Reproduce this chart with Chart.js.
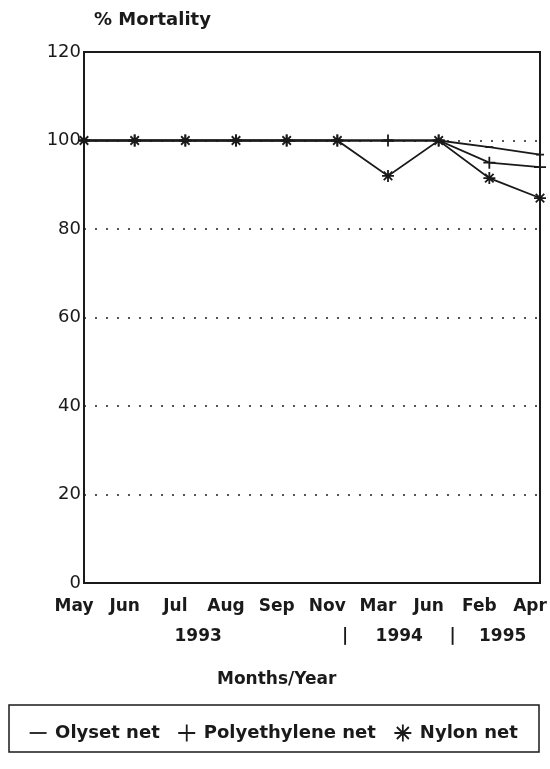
<!DOCTYPE html>
<html>
<head>
<meta charset="utf-8">
<script src="https://cdn.jsdelivr.net/npm/chart.js@4"></script>
<style>
    html, body { margin: 0; padding: 0; background: #fff; }
    #wrap { width: 550px; height: 769px; }
</style>
</head>
<body>
<div id="wrap"><canvas id="chart" width="550" height="769"></canvas></div>
<script>
const months = ["May", "Jun", "Jul", "Aug", "Sep", "Nov", "Mar", "Jun", "Feb", "Apr"];
const olyset = [100, 100, 100, 100, 100, 100, 100, 100, 98.5, 96.8];
const polyethylene = [100, 100, 100, 100, 100, 100, 100, 100, 95, 94];
const nylon = [100, 100, 100, 100, 100, 100, 92, 100, 91.5, 87];
const yTicks = [0, 20, 40, 60, 80, 100, 120];
const yearLabels = ["1993", "|", "1994", "|", "1995"];
// where the year row sits, in category index units
const yearAt = [2.45, 5.35, 6.42, 7.47, 8.46];
const xTitleAt = 4.0;

const INK = "#1a1a1a";
const FONT = "'DejaVu Sans', 'Liberation Sans', sans-serif";
const LABEL_SHIFT = -10;

const framePlugin = {
    id: "frame",
    afterDraw: (chart) => {
        const ctx = chart.ctx;
        const a = chart.chartArea;
        const x = chart.scales.x;
        ctx.save();
        ctx.strokeStyle = INK;
        ctx.lineWidth = 2;
        ctx.strokeRect(a.left, a.top, a.right - a.left, a.bottom - a.top);

        // legend box
        const lg = chart.legend;
        ctx.lineWidth = 1.5;
        ctx.strokeRect(lg.left + 1, lg.top, lg.width - 2, lg.height);

        ctx.fillStyle = INK;
        ctx.font = "bold 18px " + FONT;
        ctx.textAlign = "left";
        ctx.textBaseline = "middle";
        ctx.fillText("% Mortality", a.left + 10, 20);

        ctx.font = "bold 17px " + FONT;
        ctx.textAlign = "center";
        yearLabels.map((t, i) => {
            ctx.fillText(t, x.getPixelForValue(yearAt[i]) + LABEL_SHIFT, a.bottom + 54);
        });
        ctx.fillText("Months/Year", x.getPixelForValue(xTitleAt) + LABEL_SHIFT, a.bottom + 97);
        ctx.restore();
    }
};

const config = {
    type: "line",
    data: {
        labels: months,
        datasets: [{
            label: "Olyset net",
            data: olyset,
            pointStyle: "line",
            pointRadius: 4
        }, {
            label: "Polyethylene net",
            data: polyethylene,
            pointStyle: "cross",
            pointRadius: 6
        }, {
            label: "Nylon net",
            data: nylon,
            pointStyle: "star",
            pointRadius: 6
        }].map(d => Object.assign(d, {
            borderColor: INK,
            backgroundColor: INK,
            pointBorderColor: INK,
            borderWidth: 1.8,
            pointBorderWidth: 1.8,
            tension: 0
        }))
    },
    options: {
        responsive: false,
        animation: false,
        layout: { padding: { left: 8, right: 10, top: 52, bottom: 17 } },
        scales: {
            x: {
                offset: false,
                grid: { display: false, drawTicks: false },
                border: { display: false },
                ticks: {
                    color: INK,
                    padding: 13,
                    labelOffset: LABEL_SHIFT,
                    autoSkip: false,
                    maxRotation: 0,
                    font: { family: FONT, size: 17, weight: "bold" }
                },
                afterFit: (s) => {
                    s.height = 122;
                    s.paddingLeft = 0;
                    s.paddingRight = 0;
                }
            },
            y: {
                min: 0,
                max: 120,
                afterBuildTicks: (s) => { s.ticks = yTicks.map(v => ({ value: v })); },
                grid: {
                    drawTicks: false,
                    lineWidth: 2,
                    color: (c) => (c.tick && (c.tick.value === 0 || c.tick.value === 120)) ? "rgba(0,0,0,0)" : "#555"
                },
                border: { display: false, dash: [2, 9] },
                ticks: {
                    color: INK,
                    padding: 3,
                    font: { family: FONT, size: 18 }
                },
                afterFit: (s) => { s.width = 76; }
            }
        },
        plugins: {
            legend: {
                position: "bottom",
                labels: {
                    usePointStyle: true,
                    boxWidth: 16,
                    boxHeight: 12,
                    padding: 19,
                    color: INK,
                    font: { family: FONT, size: 18, weight: "bold" }
                }
            },
            tooltip: { enabled: false }
        }
    },
    plugins: [framePlugin]
};

const myChart = new Chart(document.getElementById("chart"), config);
</script>
</body>
</html>
